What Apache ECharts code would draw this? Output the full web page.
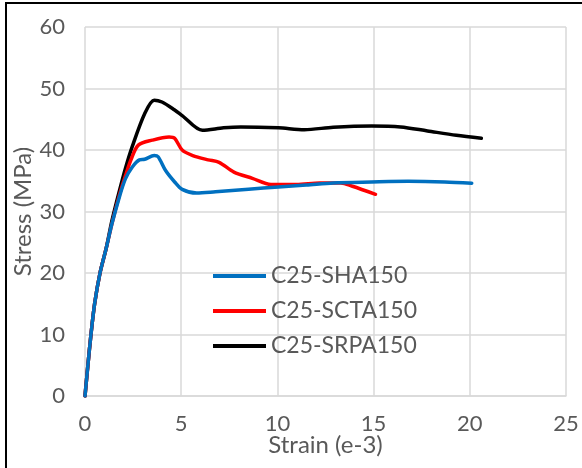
<!DOCTYPE html>
<html>
<head>
<meta charset="UTF-8">
<title>stress-strain</title>
<style>
    html, body { margin: 0; padding: 0; background: #fff; }
    #frame {
        position: absolute; left: 5px; top: 2px; width: 577px; height: 466px;
        border-left: 2px solid #000; border-top: 2px solid #000;
    }
    #show { position: absolute; left: 0; top: 0; width: 582px; height: 468px; }
</style>
</head>
<body>
<div id="frame"></div>
<div id="show"></div>
<script src="https://cdn.jsdelivr.net/npm/echarts@6/dist/echarts.min.js"></script>
<script>
    // strain (e-3) / stress (MPa)
    var shaStrain = [0, 0.15, 0.31, 0.5, 0.78, 1.1, 1.4, 1.8, 2.1, 2.45, 2.83, 3.1, 3.6, 3.8, 4.18, 4.66, 5.05, 5.8, 6.78, 8.5, 10.05, 11.5, 12.9, 14.9, 16.8, 18.7, 20.1];
    var shaStress = [0, 5, 10, 15, 20, 24, 28, 32.5, 35.3, 37.2, 38.4, 38.5, 39.1, 38.9, 36.7, 34.8, 33.6, 33.0, 33.2, 33.6, 34.0, 34.3, 34.65, 34.8, 34.9, 34.8, 34.6];

    var sctaStrain = [0, 0.15, 0.31, 0.5, 0.78, 1.1, 1.4, 1.8, 2.1, 2.4, 2.77, 3.5, 4.37, 4.66, 5.05, 5.6, 6.4, 6.97, 7.74, 8.7, 9.67, 11.0, 12.2, 13.3, 13.9, 15.1];
    var sctaStress = [0, 5, 10, 15, 20, 24, 28, 32.8, 35.8, 38.5, 40.8, 41.6, 42.1, 41.9, 40.0, 39.1, 38.4, 38.0, 36.4, 35.4, 34.4, 34.4, 34.65, 34.65, 34.1, 32.8];

    var srpaStrain = [0, 0.15, 0.31, 0.5, 0.78, 1.1, 1.4, 1.8, 2.1, 2.45, 3.1, 3.6, 4.0, 4.66, 5.05, 6.1, 7.2, 8.1, 10.05, 11.4, 12.9, 14.9, 16.4, 17.8, 19.3, 20.6];
    var srpaStress = [0, 5, 10, 15, 20, 24, 28.5, 33.5, 37, 40.5, 45.9, 48.1, 47.8, 46.5, 45.6, 43.2, 43.6, 43.75, 43.6, 43.3, 43.7, 43.9, 43.75, 43.1, 42.4, 41.9];

    var names = ['C25-SHA150', 'C25-SCTA150', 'C25-SRPA150'];
    var colors = ['#0070C0', '#FF0000', '#000000'];

    function pairs(xs, ys) {
        return xs.map(function (x, i) { return [x, ys[i]]; });
    }

    var sets = [pairs(shaStrain, shaStress), pairs(sctaStrain, sctaStress), pairs(srpaStrain, srpaStress)];

    var txt = '#595959';
    var font = 'Lato, "Open Sans", sans-serif';

    var chart = echarts.init(document.getElementById('show'));
    chart.setOption({
        animation: false,
        grid: { left: 85, right: 16, top: 27, bottom: 72 },
        xAxis: {
            type: 'value', min: 0, max: 25, interval: 5,
            name: 'Strain (e-3)', nameLocation: 'middle', nameGap: 37, nameMoveOverlap: false,
            nameTextStyle: { color: txt, fontSize: 24, fontFamily: font },
            axisLine: { show: true, lineStyle: { color: '#d9d9d9', width: 1.5 } },
            axisTick: { show: false },
            axisLabel: { color: txt, fontSize: 22, fontFamily: font, margin: 17 },
            splitLine: { show: true, lineStyle: { color: '#d9d9d9', width: 1.5 } }
        },
        yAxis: {
            type: 'value', min: 0, max: 60, interval: 10,
            name: 'Stress (MPa)', nameLocation: 'middle', nameGap: 50, nameMoveOverlap: false,
            nameTextStyle: { color: txt, fontSize: 24, fontFamily: font },
            axisLine: { show: false },
            axisTick: { show: false },
            axisLabel: { color: txt, fontSize: 22, fontFamily: font, margin: 20 },
            splitLine: { show: true, lineStyle: { color: '#d9d9d9', width: 1.5 } }
        },
        legend: {
            orient: 'vertical', left: 213, top: 264, padding: 0,
            icon: 'rect', itemWidth: 53, itemHeight: 4, itemGap: 11,
            textStyle: { color: txt, fontSize: 23, fontFamily: font, lineHeight: 24 },
            data: names
        },
        series: sets.map(function (d, i) {
            return {
                name: names[i], type: 'line', data: d,
                smooth: 0.3, showSymbol: false, symbol: 'none',
                lineStyle: { color: colors[i], width: 3.5, cap: 'round', join: 'round' },
                itemStyle: { color: colors[i] },
                z: 3 - i
            };
        })
    });
</script>
</body>
</html>
